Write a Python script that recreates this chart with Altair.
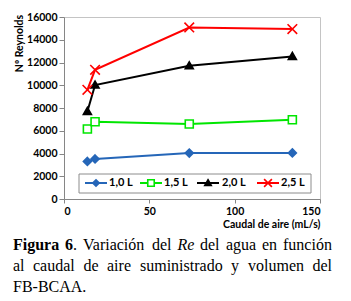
import altair as alt
import pandas as pd

# ---- data ----
flow = [13.7, 18.2, 73.4, 133.8]           # Caudal de aire (mL/s)
series = ["1,0 L", "1,5 L", "2,0 L", "2,5 L"]
re_10 = [3300, 3520, 4040, 4050]
re_15 = [6150, 6790, 6590, 6970]
re_20 = [7700, 10020, 11710, 12530]
re_25 = [9600, 11360, 15080, 14940]
y_ticks = [0, 2000, 4000, 6000, 8000, 10000, 12000, 14000, 16000]
x_ticks = [0, 50, 100, 150]

rows = []
for name, vals in zip(series, [re_10, re_15, re_20, re_25]):
    for q, r in zip(flow, vals):
        rows.append({"caudal": q, "re": r, "serie": name})
df = pd.DataFrame(rows)

# ---- styles ----
stroke_colors = ["#2566b8", "#00e600", "#000000", "#ff0000"]
fill_colors = ["#2566b8", "#ffffff", "#000000", "#ff0000"]
marker_paths = [
    "M0,-1L1,0L0,1L-1,0Z",
    "M-1,-1H1V1H-1Z",
    "M0,-1L1,0.75L-1,0.75Z",
    "M-1.2,-1.2L1.2,1.2M-1.2,1.2L1.2,-1.2",
]

FONT = "Lato"
OX, OY = 64, 17   # page position of the plot origin
W, H = 256, 182

x_enc = alt.X(
    "caudal:Q",
    scale=alt.Scale(domain=[0, 150], nice=False),
    axis=alt.Axis(values=x_ticks, format="d", title="Caudal de aire (mL/s)",
                  titleX=W, titleY=25, titleAlign="right", titleBaseline="middle",
                  tickSize=4, labelPadding=3, grid=False),
)
y_enc = alt.Y(
    "re:Q",
    scale=alt.Scale(domain=[0, 16000], nice=False),
    axis=alt.Axis(values=y_ticks, format="d", title="Nº Reynolds", titleX=-45, titleY=26,
                  titleAngle=-90, titleAlign="center", titleBaseline="middle",
                  tickSize=5, labelPadding=2, grid=False),
)
stroke_scale = alt.Scale(domain=series, range=stroke_colors)
fill_scale = alt.Scale(domain=series, range=fill_colors)
shape_scale = alt.Scale(domain=series, range=marker_paths)

base = alt.Chart(df)
lines = base.mark_line(strokeWidth=2).encode(
    x=x_enc, y=y_enc,
    stroke=alt.Stroke("serie:N", scale=stroke_scale, legend=None),
    detail="serie:N",
)
points = base.mark_point(size=64, strokeWidth=1.6, opacity=1).encode(
    x=x_enc, y=y_enc,
    stroke=alt.Stroke("serie:N", scale=stroke_scale, legend=None),
    fill=alt.Fill("serie:N", scale=fill_scale, legend=None),
    shape=alt.Shape("serie:N", scale=shape_scale, legend=None),
)

# ---- legend drawn as layout (page positions) ----
one = alt.Data(values=[{}])
leg_box = alt.Chart(one).mark_rect(fill="white", stroke="#8c8c8c", strokeWidth=1).encode(
    x=alt.value(79 - OX), x2=alt.value(311 - OX),
    y=alt.value(174 - OY), y2=alt.value(193 - OY),
)
leg_line_start = [85, 140, 197, 257]
leg_label_start = [109, 164, 222, 281]
leg_cy = 183
legend_layers = [leg_box]
for i, name in enumerate(series):
    x0 = leg_line_start[i]
    legend_layers.append(
        alt.Chart(one).mark_rule(stroke=stroke_colors[i], strokeWidth=2).encode(
            x=alt.value(x0 - OX), x2=alt.value(x0 + 22 - OX), y=alt.value(leg_cy - OY))
    )
    legend_layers.append(
        alt.Chart(one).mark_point(shape=marker_paths[i], size=42, stroke=stroke_colors[i],
                                  fill=fill_colors[i], strokeWidth=1.6, opacity=1).encode(
            x=alt.value(x0 + 11 - OX), y=alt.value(leg_cy - OY))
    )
    legend_layers.append(
        alt.Chart(one).mark_text(align="left", baseline="middle", font=FONT,
                                 fontWeight="bold", fontSize=11, color="#000").encode(
            x=alt.value(leg_label_start[i] - OX), y=alt.value(leg_cy - OY),
            text=alt.value(name))
    )

# ---- caption (layout: absolute page positions of words) ----
caption_words = [
    ("Figura", 13, 250, "bold", "normal"),
    ("6", 65, 250, "bold", "normal"),
    (".", 73, 250, "normal", "normal"),
    ("Variación", 83, 250, "normal", "normal"),
    ("del", 152, 250, "normal", "normal"),
    ("Re", 177.5, 250, "normal", "italic"),
    ("del", 200, 250, "normal", "normal"),
    ("agua", 226, 250, "normal", "normal"),
    ("en", 262, 250, "normal", "normal"),
    ("función", 283, 250, "normal", "normal"),
    ("al", 13, 271, "normal", "normal"),
    ("caudal", 33, 271, "normal", "normal"),
    ("de", 83.5, 271, "normal", "normal"),
    ("aire", 107, 271, "normal", "normal"),
    ("suministrado", 140, 271, "normal", "normal"),
    ("y", 231, 271, "normal", "normal"),
    ("volumen", 248, 271, "normal", "normal"),
    ("del", 312.5, 271, "normal", "normal"),
    ("FB-BCAA.", 13, 292, "normal", "normal"),
]
caption_layers = []
for w, xa, ya, fw, fs in caption_words:
    caption_layers.append(
        alt.Chart(one).mark_text(
            align="left", baseline="alphabetic", font="Liberation Serif",
            fontSize=16, fontWeight=fw, fontStyle=fs, color="#000",
        ).encode(x=alt.value(xa - OX), y=alt.value(ya - OY), text=alt.value(w))
    )

chart = alt.layer(lines, points, *legend_layers, *caption_layers).properties(
    width=W, height=H,
    autosize=alt.AutoSizeParams(type="none"),
    padding={"left": 56, "top": 9, "right": 20, "bottom": 98},
).configure_view(
    stroke="#c4c4c4", strokeWidth=1
).configure_axis(
    labelFont=FONT, labelFontWeight="bold", labelFontSize=10.5, labelColor="#000",
    titleFont=FONT, titleFontWeight="bold", titleFontSize=10.5, titleColor="#000",
    domainColor="#868686", tickColor="#868686",
)

chart.save("out.html", embed_options={"renderer": "svg", "actions": False})
